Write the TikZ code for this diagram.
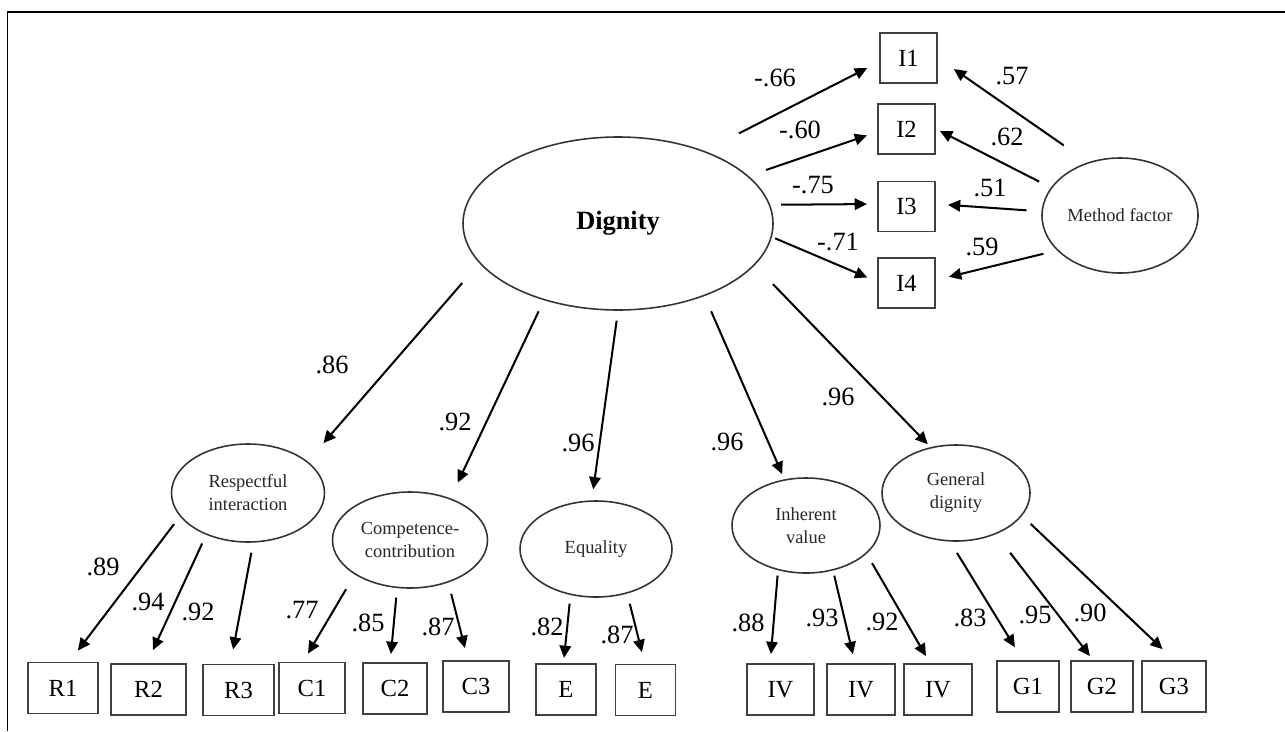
\documentclass[tikz,border=0pt]{standalone}
\usepackage{fontspec}
\setmainfont{Liberation Serif}
\usetikzlibrary{arrows.meta,shapes.geometric}
\tikzset{
  lat/.style={draw=black!80,line width=0.9pt,ellipse,inner sep=0pt,align=center,
    font=\fontsize{10.5}{13}\selectfont,text=black!85},
  obs/.style={draw=black!75,line width=1.1pt,rectangle,inner sep=0pt,
    minimum width=13.2mm,minimum height=10.2mm,font=\fontsize{14}{16}\selectfont},
  arr/.style={line width=1.15pt,-{Triangle[length=7pt,width=6.5pt]}},
  num/.style={font=\fontsize{15}{17}\selectfont,inner sep=0pt}
}

\begin{document}
\begin{tikzpicture}[x=0.2mm,y=-0.2mm]
  \useasboundingbox (0,0) rectangle (1285,731);
  \draw[line width=1pt] (7.5,731) -- (7.5,12) -- (1285,12);

  % latent factors
  \node[lat,minimum width=62mm,minimum height=34.6mm,
    font=\fontsize{15}{17}\selectfont\bfseries,text=black] (dig) at (618,223.5) {Dignity};
  \node[lat,minimum width=31.2mm,minimum height=23mm] (mf) at (1120,215.5) {Method factor};
  \node[lat,minimum width=30.6mm,minimum height=19.6mm] (resp) at (248,493) {Respectful\\interaction};
  \node[lat,minimum width=31mm,minimum height=19.2mm] (comp) at (410,540) {Competence-\\contribution};
  \node[lat,minimum width=30.4mm,minimum height=19.2mm] (equal) at (596,549) {Equality};
  \node[lat,minimum width=29.6mm,minimum height=19mm] (inher) at (806,525.5) {Inherent\\value};
  \node[lat,minimum width=29.6mm,minimum height=19.2mm] (gen) at (956,493) {General\\dignity};

  % indicators
  \node[obs,minimum width=11.4mm,minimum height=10mm] (i1) at (908.5,58) {I1};
  \node[obs,minimum width=11.4mm,minimum height=10mm] (i2) at (906.5,129) {I2};
  \node[obs,minimum width=11.4mm,minimum height=10mm] (i3) at (906.5,206.5) {I3};
  \node[obs,minimum width=11.4mm,minimum height=10mm] (i4) at (906.5,283) {I4};
  \foreach \n/\x/\y/\w/\t in {r1/63/688/14/R1, r2/148.5/689.5/15/R2, r3/238.5/690/14.2/R3,
      c1/312/688/13.2/C1, c2/395/688.5/12.8/C2, c3/476/686.5/13.2/C3,
      e1/566/689.5/12/E, e2/645.5/690/12/E,
      v1/780.5/689.5/13.4/IV, v2/861/689.5/13.6/IV, v3/938/689.5/13.6/IV,
      g1/1028/686.5/12.4/G1, g2/1102/686.5/12.4/G2, g3/1174/686.5/12.8/G3}
    \node[obs,minimum width=\w mm] (\n) at (\x,\y) {\t};

  % Dignity and method factor to I1--I4
  \draw[arr,shorten <=22pt,shorten >=7.6pt] (dig.40) -- ([shift={(0,4)}]i1.west);
  \draw[arr,shorten <=10.5pt,shorten >=6pt] (dig.20) -- ([shift={(0,3)}]i2.west);
  \draw[arr,shorten <=6.2pt,shorten >=5.7pt] (dig.7.4) -- ([shift={(0,-2.5)}]i3.west);
  \draw[arr,shorten <=2pt,shorten >=6pt] (dig.355.8) -- ([shift={(0,-1.4)}]i4.west);
  \draw[arr,shorten <=16.8pt,shorten >=11pt] (mf.121.4) -- (i1.east);
  \draw[arr,shorten <=7.4pt,shorten >=2.5pt] (mf.158) -- (i2.east);
  \draw[arr,shorten <=8.5pt,shorten >=6.8pt] (mf.177.8) -- ([shift={(0,-2.5)}]i3.east);
  \draw[arr,shorten <=7.9pt,shorten >=7.6pt] (mf.209.9) -- ([shift={(0,-3)}]i4.east);

  % Dignity to first order factors
  \draw[arr,shorten <=14.9pt,shorten >=13.7pt] (dig.196.1) -- (resp.28.8);
  \draw[arr,shorten <=7pt,shorten >=9.8pt] (dig.226) -- (comp.46.3);
  \draw[arr,shorten <=5.7pt,shorten >=6.3pt] (dig.270) -- (equal.95.5);
  \draw[arr,shorten <=9.4pt,shorten >=3.2pt] (dig.320.9) -- (inher.115.6);
  \draw[arr,shorten <=14.9pt,shorten >=2.3pt] (dig.343.5) -- (gen.119.2);

  % factors to items
  \foreach \s/\a/\t/\dx/\g/\h in {
      resp/199.2/r1/6.5/5.4/7.9, resp/225.3/r2/-1.5/5.4/8.1, resp/276.9/r3/-8/5.8/8.1,
      comp/212.3/c1/-8.7/9.7/5.3, comp/255.8/c2/-4.8/5.4/4.6, comp/312.4/c3/-8/6.6/7,
      equal/241.1/e1/-2.5/4.9/2.9, equal/305.8/e2/-0.7/6/6.7,
      inher/238.1/v1/-10.3/3/5.1, inher/301.2/v2/-6/3/5.2, inher/335.9/v3/-8/6.1/4.6,
      gen/263.1/g1/-5.2/7.5/8.6, gen/314.6/g2/-9/13.3/2.9, gen/341.5/g3/0/6.6/9}
    \draw[arr,shorten <=\g pt,shorten >=\h pt] (\s.\a) -- ([shift={(\dx,0)}]\t.north);

  % loadings
  \foreach \x/\y/\t [count=\i] in {775/78/-.66, 800/130/-.60, 813/185/-.75, 838/242/-.71,
      1012/76/.57, 1007/137/.62, 990/188/.51, 982/247/.59,
      332/365/.86, 455/422/.92, 578/443/.96, 727/442/.96, 838/397/.96,
      103/567/.89, 148/602/.94, 198/612/.92, 302/610/.77, 368/623/.85, 438/627/.87,
      547/627/.82, 617/635/.87, 748/623/.88, 822/618/.93, 882/622/.92,
      970/618/.83, 1035/615/.95, 1090/613/.90}
    \node[num] (w\i) at (\x,\y) {\t};
\end{tikzpicture}
\end{document}
